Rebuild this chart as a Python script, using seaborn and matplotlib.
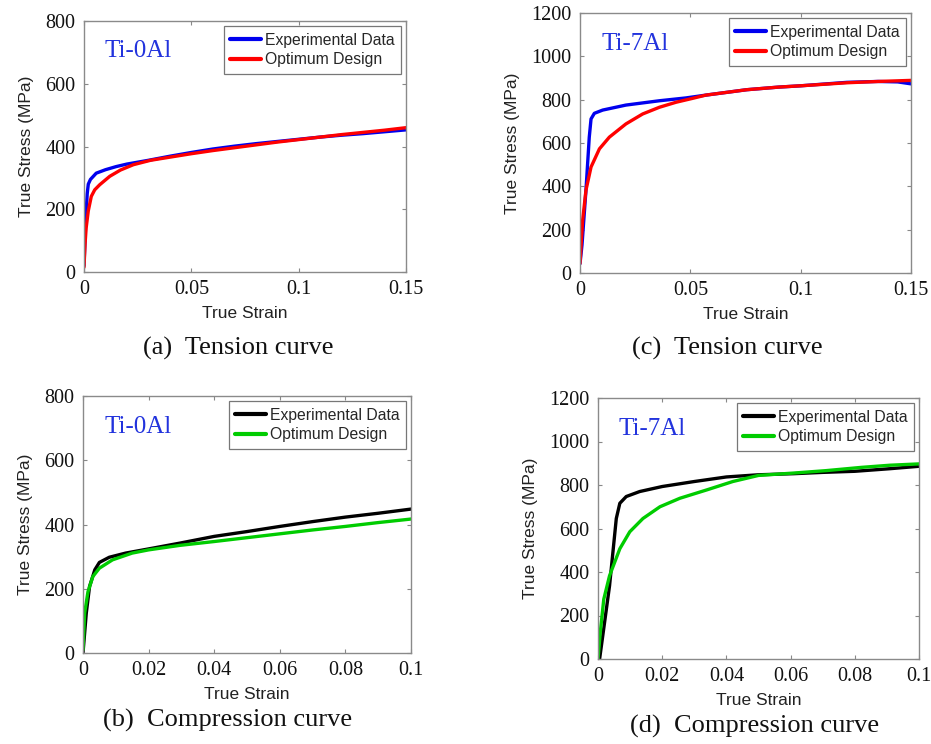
import matplotlib
matplotlib.use("Agg")
import matplotlib.pyplot as plt
import seaborn as sns
import pandas as pd

# ---------------- data ----------------
# (a) Ti-0Al tension
a_exp_strain = [0.0, 0.0005, 0.001, 0.0015, 0.002, 0.003, 0.0057, 0.01, 0.015, 0.02, 0.03, 0.04, 0.05,
                0.06, 0.07, 0.08, 0.09, 0.10, 0.11, 0.12, 0.13, 0.14, 0.15]
a_exp_stress = [20, 110, 190, 250, 280, 295, 315, 326, 336, 344, 356, 369, 381,
                392, 401, 409, 416, 423, 430, 436, 441, 447, 453]
a_opt_strain = [0.0, 0.0005, 0.001, 0.002, 0.0034, 0.005, 0.0073, 0.012, 0.017, 0.023, 0.031, 0.04, 0.05,
                0.06, 0.07, 0.08, 0.09, 0.10, 0.11, 0.12, 0.13, 0.14, 0.15]
a_opt_stress = [15, 90, 140, 195, 241, 262, 278, 305, 325, 342, 356, 366, 377,
                387, 396, 405, 414, 422, 430, 438, 445, 452, 460]

# (c) Ti-7Al tension
c_exp_strain = [0.0, 0.0009, 0.0027, 0.0042, 0.005, 0.0065, 0.0103, 0.0208, 0.036, 0.048, 0.057,
                0.0756, 0.09, 0.10, 0.121, 0.135, 0.144, 0.15]
c_exp_stress = [43, 129, 382, 627, 711, 737, 752, 775, 795, 808, 821,
                846, 858, 864, 880, 884, 882, 873]
c_opt_strain = [0.0, 0.0012, 0.0027, 0.005, 0.0088, 0.0133, 0.0208, 0.0284, 0.036, 0.0435, 0.051, 0.057,
                0.0756, 0.09, 0.10, 0.121, 0.135, 0.15]
c_opt_stress = [44, 244, 382, 489, 573, 627, 688, 734, 765, 788, 806, 821,
                846, 858, 864, 878, 884, 889]

# (b) Ti-0Al compression
b_exp_strain = [0.0, 0.001, 0.002, 0.0036, 0.005, 0.008, 0.013, 0.02, 0.0295, 0.04, 0.05,
                0.06, 0.07, 0.08, 0.09, 0.10]
b_exp_stress = [0, 124, 207, 259, 282, 298, 311, 324, 342, 363, 378,
                394, 409, 423, 435, 448]
b_opt_strain = [0.0, 0.0005, 0.0015, 0.003, 0.005, 0.009, 0.015, 0.02, 0.0295, 0.04, 0.05,
                0.06, 0.07, 0.08, 0.09, 0.10]
b_opt_stress = [10, 124, 190, 238, 264, 290, 311, 321, 335, 347, 359,
                371, 383, 394, 406, 417]

# (d) Ti-7Al compression
d_exp_strain = [0.0005, 0.0036, 0.0057, 0.0068, 0.0088, 0.013, 0.02, 0.03, 0.04, 0.05,
                0.061, 0.07, 0.08, 0.091, 0.10]
d_exp_stress = [0, 337, 646, 716, 747, 770, 793, 816, 837, 847,
                852, 858, 863, 875, 886]
d_opt_strain = [0.0, 0.0007, 0.0018, 0.0036, 0.0068, 0.0099, 0.014, 0.0193, 0.0255, 0.034,
                0.042, 0.05, 0.061, 0.071, 0.082, 0.091, 0.10]
d_opt_stress = [0, 121, 275, 383, 507, 585, 646, 700, 739, 778,
                816, 844, 855, 866, 881, 891, 897]

series_labels = ["Experimental Data", "Optimum Design"]
x_label = "True Strain"
y_label = "True Stress (MPa)"

panels = [
    dict(title="Ti-0Al", caption="(a)  Tension curve",
         exp=(a_exp_strain, a_exp_stress), opt=(a_opt_strain, a_opt_stress),
         colors=["#0000EE", "#FF0000"], xlim=(0, 0.15), ylim=(0, 800),
         xticks=[0, 0.05, 0.1, 0.15], xtl=["0", "0.05", "0.1", "0.15"],
         yticks=[0, 200, 400, 600, 800],
         rect=(84, 21, 406, 272), cap=(238, 348)),
    dict(title="Ti-7Al", caption="(c)  Tension curve",
         exp=(c_exp_strain, c_exp_stress), opt=(c_opt_strain, c_opt_stress),
         colors=["#0000EE", "#FF0000"], xlim=(0, 0.15), ylim=(0, 1200),
         xticks=[0, 0.05, 0.1, 0.15], xtl=["0", "0.05", "0.1", "0.15"],
         yticks=[0, 200, 400, 600, 800, 1000, 1200],
         rect=(580, 13, 911, 273), cap=(727, 348)),
    dict(title="Ti-0Al", caption="(b)  Compression curve",
         exp=(b_exp_strain, b_exp_stress), opt=(b_opt_strain, b_opt_stress),
         colors=["#000000", "#00CC00"], xlim=(0, 0.1), ylim=(0, 800),
         xticks=[0, 0.02, 0.04, 0.06, 0.08, 0.1], xtl=["0", "0.02", "0.04", "0.06", "0.08", "0.1"],
         yticks=[0, 200, 400, 600, 800],
         rect=(83, 396, 411, 653), cap=(228, 720)),
    dict(title="Ti-7Al", caption="(d)  Compression curve",
         exp=(d_exp_strain, d_exp_stress), opt=(d_opt_strain, d_opt_stress),
         colors=["#000000", "#00CC00"], xlim=(0, 0.1), ylim=(0, 1200),
         xticks=[0, 0.02, 0.04, 0.06, 0.08, 0.1], xtl=["0", "0.02", "0.04", "0.06", "0.08", "0.1"],
         yticks=[0, 200, 400, 600, 800, 1000, 1200],
         rect=(598, 398, 919, 659), cap=(755, 726)),
]

sns.set_style("white")
plt.rcParams["font.family"] = ["Liberation Sans", "DejaVu Sans"]

W, H = 931, 744
fig = plt.figure(figsize=(W / 100, H / 100), dpi=100)
serif = ["Liberation Serif", "DejaVu Serif"]

for p in panels:
    l, t, r, b = p["rect"]
    ax = fig.add_axes([l / W, 1 - b / H, (r - l) / W, (b - t) / H])
    frames = []
    for lab, (xs, ys) in zip(series_labels, [p["exp"], p["opt"]]):
        frames.append(pd.DataFrame({"strain": xs, "stress": ys, "series": lab}))
    df = pd.concat(frames, ignore_index=True)
    sns.lineplot(data=df, x="strain", y="stress", hue="series", hue_order=series_labels,
                 palette=p["colors"], sort=False, estimator=None, linewidth=2.4, ax=ax)
    ax.set_xlim(*p["xlim"])
    ax.set_ylim(*p["ylim"])
    ax.set_xticks(p["xticks"])
    ax.set_xticklabels(p["xtl"], family=serif, fontsize=14.5)
    ax.set_yticks(p["yticks"])
    ax.set_yticklabels([str(v) for v in p["yticks"]], family=serif, fontsize=14.5)
    ax.tick_params(direction="in", length=3, width=0.8, color="#888888",
                   top=True, right=True, bottom=True, left=True, pad=6, labelcolor="#111111")
    for s in ax.spines.values():
        s.set_color("#8a8a8a")
        s.set_linewidth(1.0)
    ax.set_xlabel(x_label, fontsize=12.5, color="#222222", labelpad=5)
    ax.set_ylabel(y_label, fontsize=12.5, color="#222222", labelpad=8)
    ax.text(0.065, 0.88, p["title"], transform=ax.transAxes, family=serif,
            fontsize=18, color="#2233DD", va="center", ha="left")
    leg = ax.legend(loc="upper right", fontsize=11.3, frameon=True, fancybox=False,
                    handlelength=2.0, borderaxespad=0.35, borderpad=0.4,
                    labelspacing=0.3, handletextpad=0.2)
    leg.get_frame().set_edgecolor("#555555")
    leg.get_frame().set_linewidth(0.9)
    for h in leg.get_lines():
        h.set_linewidth(3)
    cx, cy = p["cap"]
    fig.text(cx / W, 1 - cy / H, p["caption"], family=serif, fontsize=19,
             ha="center", va="center", color="#111111")

fig.savefig("out.png", dpi=100, facecolor="white")
